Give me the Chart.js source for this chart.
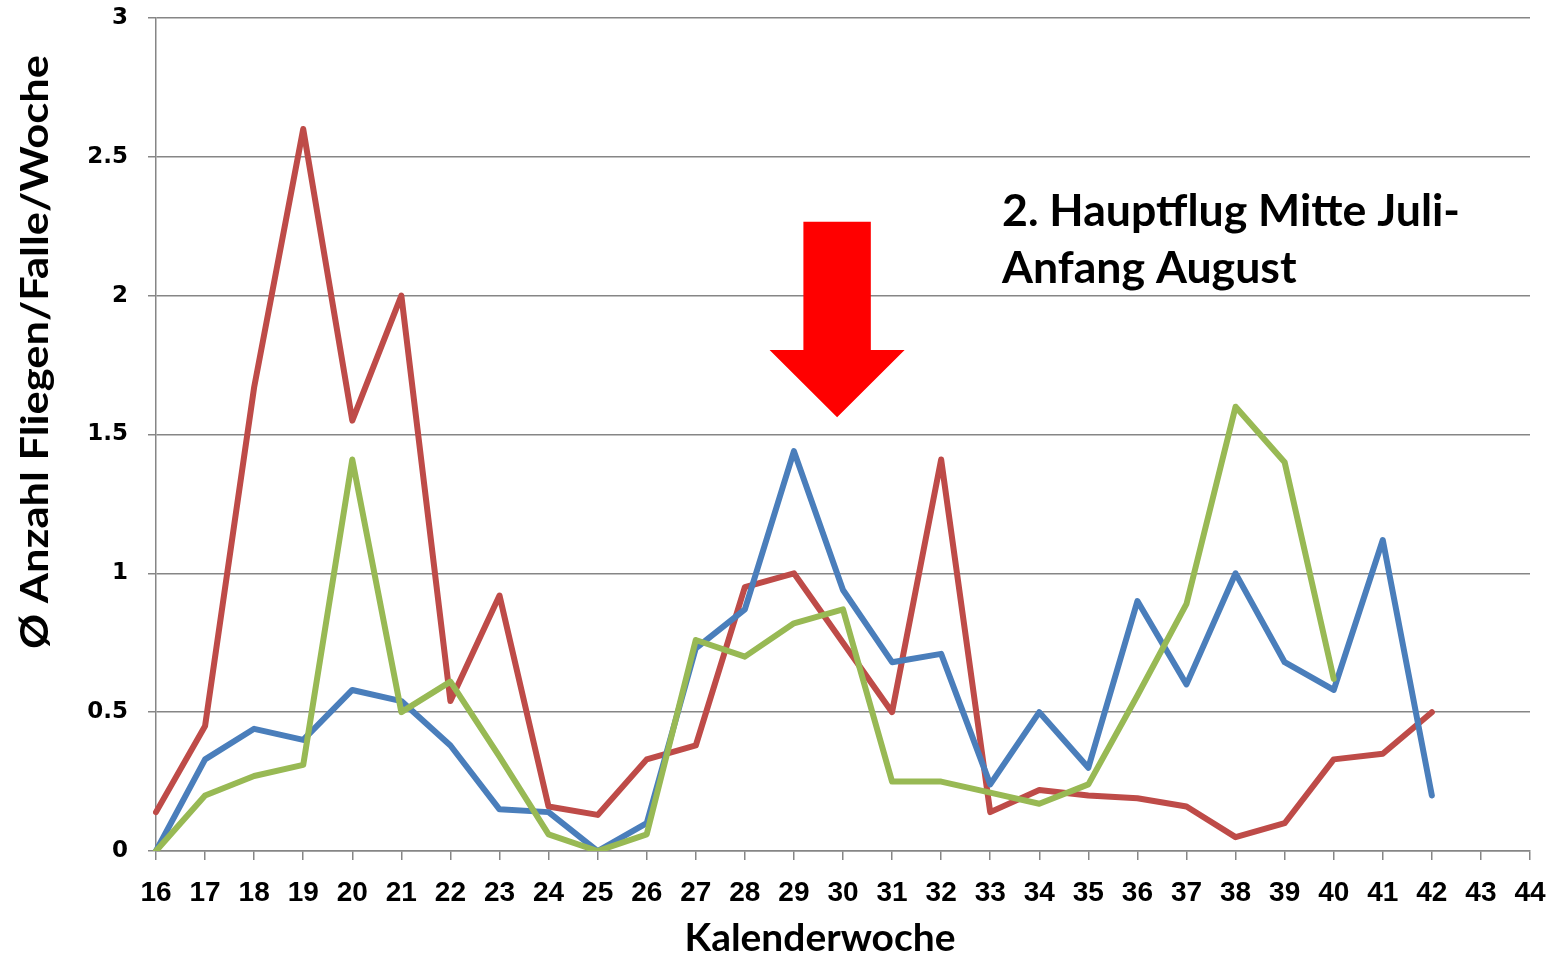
<!DOCTYPE html>
<html lang="de">
<head>
<meta charset="utf-8">
<title>Fliegen pro Falle und Woche</title>
<script src="https://cdn.jsdelivr.net/npm/chart.js@4.4.0/dist/chart.umd.min.js"></script>
<style>
  html, body { margin: 0; padding: 0; background: #fff; }
  canvas { display: block; }
</style>
</head>
<body>
<canvas id="chartFliegen" width="1552" height="956"></canvas>
<script>
// Kalenderwochen 16 bis 44
const kalenderwochen = ['16', '17', '18', '19', '20', '21', '22', '23', '24', '25', '26', '27', '28', '29', '30',
  '31', '32', '33', '34', '35', '36', '37', '38', '39', '40', '41', '42', '43', '44'];

// Durchschnitt Fliegen/Falle/Woche (KW 16 ...)
const fliegenBlau = [0, 0.33, 0.44, 0.40, 0.58, 0.54, 0.38, 0.15, 0.14, 0, 0.10, 0.73, 0.87, 1.44, 0.94,
  0.68, 0.71, 0.24, 0.50, 0.30, 0.90, 0.60, 1.00, 0.68, 0.58, 1.12, 0.20];
const fliegenRot = [0.14, 0.45, 1.67, 2.60, 1.55, 2.00, 0.54, 0.92, 0.16, 0.13, 0.33, 0.38, 0.95, 1.00, 0.75,
  0.50, 1.41, 0.14, 0.22, 0.20, 0.19, 0.16, 0.05, 0.10, 0.33, 0.35, 0.50];
const fliegenGruen = [0, 0.20, 0.27, 0.31, 1.41, 0.50, 0.61, 0.34, 0.06, 0, 0.06, 0.76, 0.70, 0.82, 0.87,
  0.25, 0.25, 0.21, 0.17, 0.24, 0.56, 0.89, 1.60, 1.40, 0.62];

const titelY = 'Ø Anzahl Fliegen/Falle/Woche';
const titelX = 'Kalenderwoche';
const hinweisZeilen = ['2. Hauptflug Mitte Juli-', 'Anfang August'];

// Text horizontal auf eine Zielbreite bringen (Excel-Schrift ist schmaler)
function gestauchterText(ctx, text, schrift, zielBreite) {
  ctx.font = schrift;
  return zielBreite / ctx.measureText(text).width;
}

// keine Extra-Abstände der Achsen, nur layout.padding zählt
function ohnePadding(scale) {
  scale.paddingTop = 0;
  scale.paddingBottom = 0;
  scale.paddingLeft = 0;
  scale.paddingRight = 0;
}

const beschriftungPlugin = {
  id: 'beschriftung',
  afterDraw(chart) {
    const ctx = chart.ctx;
    const x = chart.scales.x;
    const y = chart.scales.y;
    const woche = x.getPixelForValue(1) - x.getPixelForValue(0);

    // roter Pfeil
    const mitte = x.getPixelForValue(13.88);
    const schaft = 0.687 * woche;
    const kopf = 1.376 * woche;
    const oben = y.getPixelForValue(2.266);
    const ansatz = y.getPixelForValue(1.804);
    const spitze = y.getPixelForValue(1.562);
    ctx.save();
    ctx.fillStyle = '#ff0000';
    ctx.beginPath();
    ctx.moveTo(mitte - schaft, oben);
    ctx.lineTo(mitte + schaft, oben);
    ctx.lineTo(mitte + schaft, ansatz);
    ctx.lineTo(mitte + kopf, ansatz);
    ctx.lineTo(mitte, spitze);
    ctx.lineTo(mitte - kopf, ansatz);
    ctx.lineTo(mitte - schaft, ansatz);
    ctx.closePath();
    ctx.fill();
    ctx.restore();

    ctx.save();
    ctx.fillStyle = '#000';
    ctx.textBaseline = 'alphabetic';

    // Hinweistext
    const hinweisFont = 'bold 43px Lato';
    const f = gestauchterText(ctx, hinweisZeilen[0], hinweisFont, 458);
    const links = x.getPixelForValue(17.24);
    [2.251, 2.046].forEach((wert, i) => {
      ctx.save();
      ctx.font = hinweisFont;
      ctx.textAlign = 'left';
      ctx.translate(links, y.getPixelForValue(wert));
      ctx.scale(f, 1);
      ctx.fillText(hinweisZeilen[i], 0, 0);
      ctx.restore();
    });

    // Achsentitel y
    const achsFont = 'bold 38px Lato';
    const fy = gestauchterText(ctx, titelY, achsFont, 594);
    ctx.save();
    ctx.font = achsFont;
    ctx.textAlign = 'center';
    ctx.translate(48, 352);
    ctx.rotate(-Math.PI / 2);
    ctx.scale(fy, 1);
    ctx.fillText(titelY, 0, 0);
    ctx.restore();

    // Achsentitel x
    const fx = gestauchterText(ctx, titelX, achsFont, 271);
    ctx.save();
    ctx.font = achsFont;
    ctx.textAlign = 'center';
    ctx.translate(820, 951);
    ctx.scale(fx, 1);
    ctx.fillText(titelX, 0, 0);
    ctx.restore();

    ctx.restore();
  }
};

const ctxFliegen = document.getElementById('chartFliegen').getContext('2d');

new Chart(ctxFliegen, {
  type: 'line',
  data: {
    labels: kalenderwochen,
    datasets: [
      { label: 'Blau', data: fliegenBlau, borderColor: '#4a7ebb', order: 1 },
      { label: 'Rot', data: fliegenRot, borderColor: '#be4b48', order: 2 },
      { label: 'Grün', data: fliegenGruen, borderColor: '#98b954', order: 0 }
    ]
  },
  options: {
    responsive: false,
    animation: false,
    layout: { padding: { top: 18, right: 22, left: 0, bottom: 0 } },
    elements: {
      line: { borderWidth: 6, tension: 0, fill: false, borderJoinStyle: 'round', borderCapStyle: 'round' },
      point: { radius: 0, hoverRadius: 0 }
    },
    plugins: {
      legend: { display: false },
      tooltip: { enabled: false }
    },
    scales: {
      x: {
        type: 'category',
        offset: false,
        afterFit: scale => { scale.height = 105; ohnePadding(scale); },
        grid: { drawOnChartArea: false, drawTicks: true, tickLength: 9, color: '#868686', lineWidth: 1.5 },
        border: { color: '#868686', width: 1.5 },
        ticks: {
          color: '#000',
          font: { family: 'Liberation Sans', weight: 'bold', size: 28 },
          padding: 16,
          maxRotation: 0,
          autoSkip: false
        }
      },
      y: {
        min: 0,
        max: 3,
        afterFit: scale => { scale.width = 156; ohnePadding(scale); },
        grid: { color: '#868686', lineWidth: 1.5, tickLength: 8 },
        border: { color: '#868686', width: 1.5 },
        ticks: {
          stepSize: 0.5,
          color: '#000',
          font: { family: 'DejaVu Sans', weight: 'bold', size: 23 },
          padding: 20,
          callback: wert => String(wert)
        }
      }
    }
  },
  plugins: [beschriftungPlugin]
});
</script>
</body>
</html>
